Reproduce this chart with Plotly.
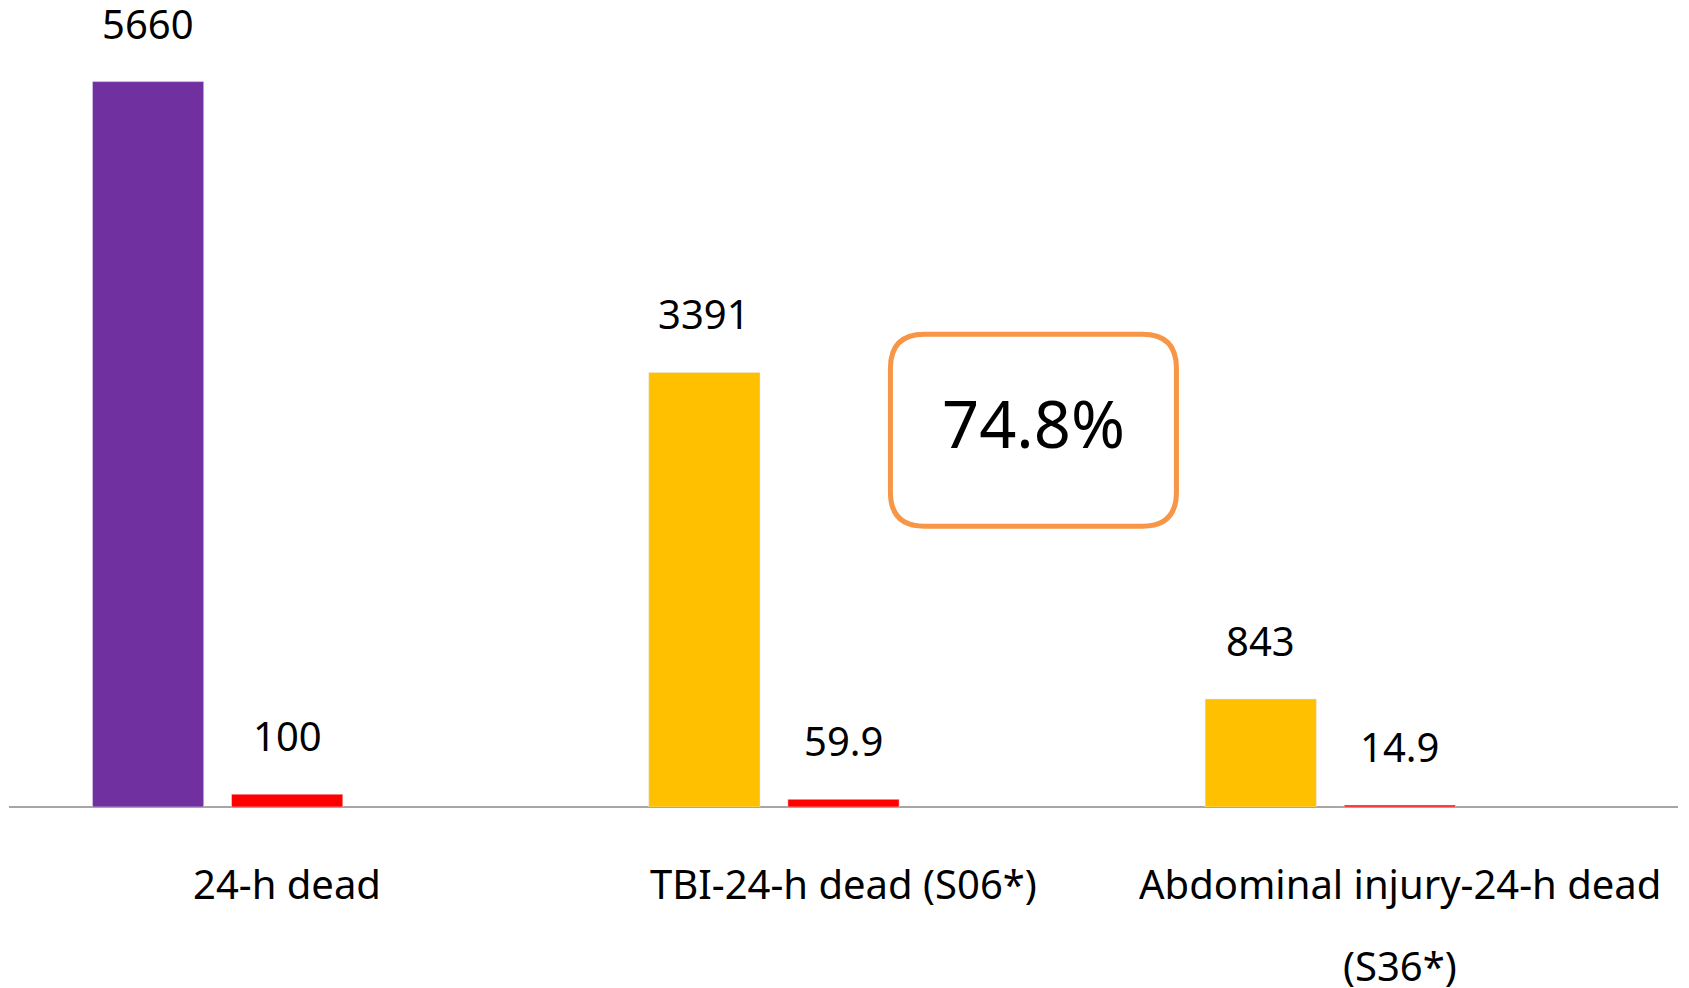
import plotly.graph_objects as go

categories = ["24-h dead", "TBI-24-h dead (S06*)", "Abdominal injury-24-h dead (S36*)"]
cat_lines = [["24-h dead"], ["TBI-24-h dead (S06*)"], ["Abdominal injury-24-h dead", "(S36*)"]]
counts = [5660, 3391, 843]
percents = [100, 59.9, 14.9]
count_colors = ["#7030A0", "#FFC000", "#FFC000"]
pct_color = "#FF0000"
highlight_text = "74.8%"

FONT = "Noto Sans"

fig = go.Figure()
fig.add_trace(go.Bar(x=categories, y=counts, marker_color=count_colors,
                     offset=-0.35, width=0.2, showlegend=False, hoverinfo="y"))
fig.add_trace(go.Bar(x=categories, y=percents, marker_color=pct_color,
                     offset=-0.1, width=0.2, showlegend=False, hoverinfo="y"))

annotations = []
for i, v in enumerate(counts):
    annotations.append(dict(x=i - 0.25, y=v, xref="x", yref="y", text=str(v),
                            showarrow=False, yanchor="bottom", yshift=29,
                            font=dict(family=FONT, size=40, color="#000000")))
for i, v in enumerate(percents):
    annotations.append(dict(x=i, y=v, xref="x", yref="y", text=str(v),
                            showarrow=False, yanchor="bottom", yshift=29,
                            font=dict(family=FONT, size=40, color="#000000")))
for i, lines in enumerate(cat_lines):
    for j, line in enumerate(lines):
        annotations.append(dict(x=i, y=0, xref="x", yref="paper", text=line,
                                showarrow=False, yanchor="middle", yshift=-76 - 82 * j,
                                font=dict(family=FONT, size=40, color="#000000")))

annotations.append(dict(x=0.6138, y=0.5, xref="paper", yref="paper", text=highlight_text,
                        showarrow=False, xanchor="center", yanchor="middle",
                        font=dict(family=FONT, size=65, color="#000000")))

# rounded box (pixel-sized, anchored in paper coords)
w, h, r = 286, 192, 34
hw, hh = w / 2, h / 2
path = (f"M {-hw + r},{-hh} L {hw - r},{-hh} Q {hw},{-hh} {hw},{-hh + r} "
        f"L {hw},{hh - r} Q {hw},{hh} {hw - r},{hh} L {-hw + r},{hh} "
        f"Q {-hw},{hh} {-hw},{hh - r} L {-hw},{-hh + r} Q {-hw},{-hh} {-hw + r},{-hh} Z")
shapes = [dict(type="path", xref="paper", yref="paper", xsizemode="pixel", ysizemode="pixel",
               xanchor=0.6138, yanchor=0.49, path=path,
               line=dict(color="#F79646", width=5), fillcolor="rgba(0,0,0,0)")]

fig.update_layout(
    width=1681, height=980,
    margin=dict(l=1, r=11, t=30, b=181),
    paper_bgcolor="white", plot_bgcolor="white",
    annotations=annotations, shapes=shapes,
    barmode="overlay",
    xaxis=dict(showticklabels=False, showgrid=False, zeroline=False, showline=False,
               range=[-0.5, 2.5], ticks=""),
    yaxis=dict(range=[0, 6000], showticklabels=False, showgrid=False,
               zeroline=True, zerolinecolor="#A6A6A6", zerolinewidth=2, showline=False),
    font=dict(family=FONT, color="#000000"),
)

fig.write_html("out.html")
